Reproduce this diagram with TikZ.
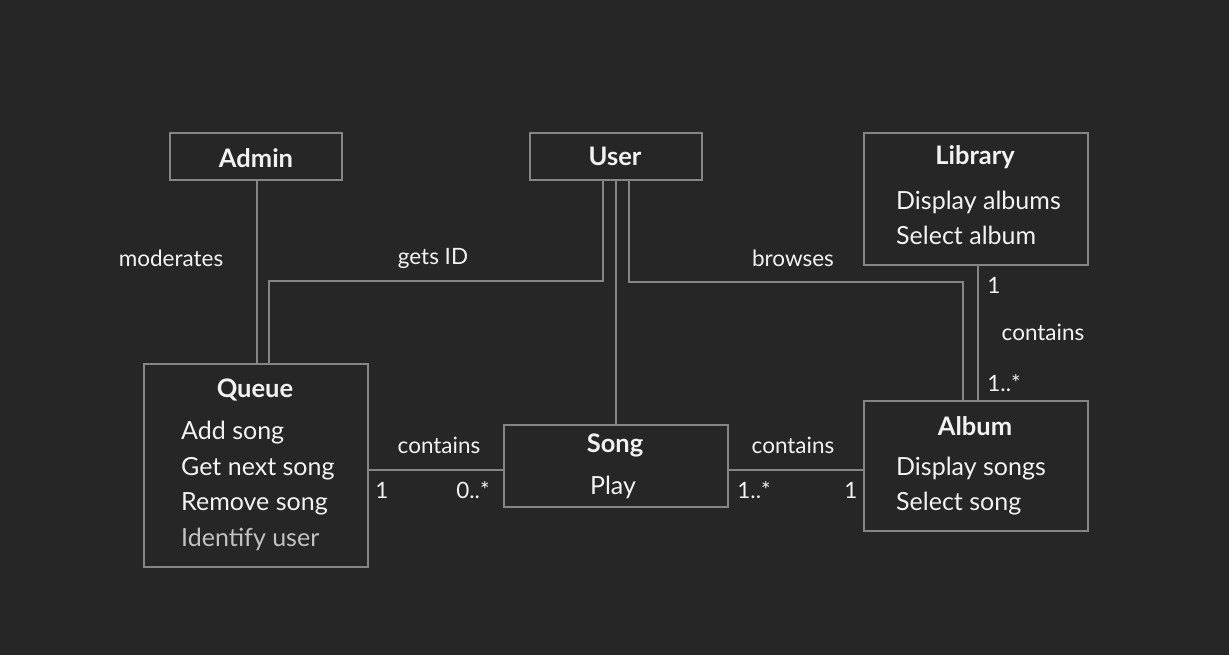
\documentclass[tikz,border=0pt]{standalone}
\usepackage{fontspec}
\setmainfont{Lato}
\usetikzlibrary{calc}
\definecolor{bg}{HTML}{262626}
\definecolor{edge}{HTML}{858585}
\definecolor{txt}{HTML}{F2F2F2}
\definecolor{dim}{HTML}{C2C2C2}
\begin{document}
\begin{tikzpicture}[x=1pt,y=-1pt,
  box/.style={draw=edge, line width=1.5pt, inner sep=0pt, outer sep=0pt, anchor=north west},
  conn/.style={draw=edge, line width=1.5pt},
  title/.style={text=txt, inner sep=0pt, font=\bfseries\fontsize{25.5}{30}\selectfont},
  item/.style={text=txt, inner sep=0pt, anchor=mid west, font=\fontsize{25}{30}\selectfont},
  lbl/.style={text=txt, inner sep=0pt, font=\fontsize{22.5}{27}\selectfont}]
\fill[bg] (0,0) rectangle (1229,655);
\useasboundingbox (0,0) rectangle (1229,655);
% boxes
\node[box, minimum width=172pt, minimum height=47pt] (admin) at (170,133) {};
\node[box, minimum width=172pt, minimum height=47pt] (user) at (530,133) {};
\node[box, minimum width=224pt, minimum height=132pt] (library) at (864,133) {};
\node[box, minimum width=224pt, minimum height=203pt] (queue) at (144,364) {};
\node[box, minimum width=224pt, minimum height=82pt] (song) at (504,425) {};
\node[box, minimum width=224pt, minimum height=130pt] (album) at (864,401) {};
% texts
\node[title] (tadmin) at (256,158) {Admin};
\node[title] (tuser) at (615,156) {User};
\node[title] (tlib) at (975,157) {Library};
\node[item] (l1) at (896,207) {Display albums};
\node[item] (l2) at (896,242) {Select album};
\node[title] (tqueue) at (255,390) {Queue};
\node[item] (q1) at (181,437) {Add song};
\node[item] (q2) at (181,473) {Get next song};
\node[item] (q3) at (181,508) {Remove song};
\node[item, text=dim] (q4) at (181,544) {Identify user};
\node[title] (tsong) at (615,445) {Song};
\node[item, anchor=mid] (s1) at (613,492) {Play};
\node[title] (talbum) at (975,426) {Album};
\node[item] (a1) at (896,473) {Display songs};
\node[item] (a2) at (896,508) {Select song};
% connectors
\coordinate (gA) at (603,281);
\coordinate (gB) at (269,281);
\coordinate (bA) at (629,282);
\coordinate (bB) at (963,282);
\draw[conn] (admin.south -| 257,0) -- (queue.north -| 257,0);
\draw[conn] (user.south -| gA) -- (gA) -- (gB) -- (queue.north -| gB);
\draw[conn] (user.south -| 616,0) -- (song.north -| 616,0);
\draw[conn] (user.south -| bA) -- (bA) -- (bB) -- (album.north -| bB);
\draw[conn] (library.south -| 978,0) -- (album.north -| 978,0);
\draw[conn] (queue.east |- 0,470) -- (song.west |- 0,470);
\draw[conn] (song.east |- 0,470) -- (album.west |- 0,470);
% labels
\node[lbl] (m) at (171,258) {moderates};
\node[lbl] (g) at (433,258) {gets ID};
\node[lbl] (b) at (793,258) {browses};
\node[lbl] (c1) at (439,445) {contains};
\node[lbl] (n1) at (382,490) {1};
\node[lbl] (n2) at (473,490) {0..*};
\node[lbl] (c2) at (793,445) {contains};
\node[lbl] (n3) at (754,490) {1..*};
\node[lbl] (n4) at (851,490) {1};
\node[lbl] (n5) at (994,285) {1};
\node[lbl] (c3) at (1043,332) {contains};
\node[lbl] (n6) at (1004,383) {1..*};
\end{tikzpicture}
\end{document}
